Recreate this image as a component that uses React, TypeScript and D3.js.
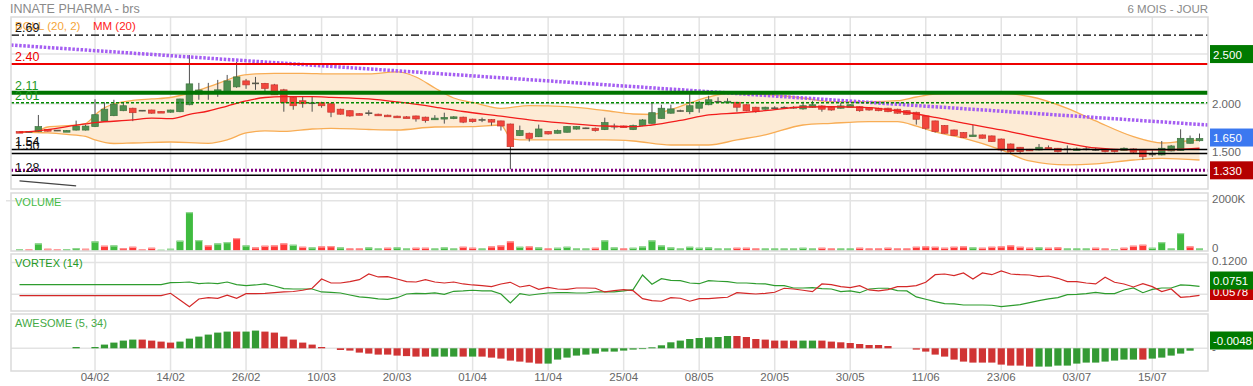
import React from "react";
import * as d3 from "d3";

const W = 1253;
const H = 386;
const FONT = "'Liberation Sans', Arial, sans-serif";

// daily candles, index 0 = 23/01 ... 125 = 22/07
const opens = [1.72,1.715,1.72,1.74,1.73,1.728,1.735,1.735,1.77,1.825, 1.88,1.93,1.955,1.93,1.937,1.922,1.915,1.92,1.99,2.098, 2.12,2.12,2.12,2.17,2.23,2.205,2.205,2.19,2.14,2.065, 2.03,2.005,2.01,2.00,1.945,1.93,1.90,1.905,1.895,1.885, 1.875,1.868,1.877,1.865,1.845,1.855,1.85,1.865,1.845,1.837, 1.84,1.827,1.796,1.68,1.703,1.668,1.72,1.703,1.713,1.745, 1.753,1.753,1.74,1.77,1.776,1.74,1.78,1.803,1.853,1.905, 1.927,1.92,1.955,1.99,2.02,2.02,2.015,1.99,1.965,1.945, 1.955,1.96,1.96,1.948,1.965,1.978,1.965,1.955,1.965,1.97, 1.96,1.955,1.955,1.945,1.93,1.914,1.877,1.827,1.78,1.736, 1.71,1.675,1.686,1.676,1.645,1.595,1.562,1.542,1.535,1.558, 1.552,1.542,1.54,1.542,1.535,1.542,1.542,1.528,1.545,1.528, 1.49,1.485,1.525,1.528,1.602,1.628];
const highs = [1.72,1.72,1.887,1.745,1.735,1.735,1.83,1.79,2.045,2.015, 2.04,2.015,1.96,1.935,1.94,1.925,1.94,2.05,2.49,2.21, 2.21,2.24,2.29,2.42,2.25,2.27,2.21,2.2,2.15,2.07, 2.07,2.07,2.02,2.01,1.95,1.935,1.905,1.935,1.9,1.89, 1.88,1.875,1.88,1.87,1.885,1.91,1.875,1.87,1.85,1.86, 1.845,1.83,1.8,1.78,1.71,1.79,1.725,1.74,1.775,1.775, 1.76,1.76,1.86,1.8,1.78,1.79,1.845,2.015,1.99,1.99, 1.94,2.1,2.03,2.08,2.065,2.055,2.02,1.995,1.97,1.97, 1.975,1.975,1.975,2.02,2.03,1.985,1.97,2.01,1.995,1.975, 1.965,1.96,1.96,1.95,1.935,1.92,1.88,1.83,1.785,1.74, 1.715,1.786,1.69,1.68,1.65,1.6,1.565,1.545,1.595,1.58, 1.555,1.58,1.56,1.565,1.555,1.545,1.545,1.56,1.55,1.53, 1.535,1.625,1.585,1.743,1.68,1.7];
const lows = [1.71,1.71,1.715,1.72,1.725,1.72,1.73,1.73,1.765,1.82, 1.875,1.925,1.825,1.925,1.9,1.915,1.91,1.915,1.985,2.04, 2.04,2.07,2.11,2.16,2.15,2.14,2.12,2.09,1.92,1.94, 1.96,1.92,1.96,1.865,1.89,1.87,1.885,1.88,1.88,1.875, 1.86,1.855,1.82,1.81,1.84,1.8,1.845,1.805,1.81,1.815, 1.78,1.73,1.34,1.675,1.62,1.665,1.69,1.7,1.71,1.74, 1.745,1.72,1.735,1.74,1.76,1.735,1.775,1.8,1.85,1.9, 1.92,1.895,1.91,1.985,2.01,2.01,1.92,1.925,1.91,1.94, 1.945,1.95,1.95,1.94,1.96,1.92,1.93,1.95,1.96,1.92, 1.93,1.925,1.915,1.9,1.89,1.79,1.74,1.71,1.7,1.675, 1.655,1.67,1.65,1.615,1.52,1.505,1.5,1.525,1.53,1.535, 1.51,1.5,1.53,1.53,1.525,1.51,1.51,1.525,1.505,1.435, 1.465,1.48,1.52,1.525,1.6,1.62];
const closes = [1.715,1.716,1.77,1.725,1.73,1.73,1.775,1.775,1.89,1.945, 1.995,1.98,1.91,1.93,1.905,1.918,1.937,2.048,2.2,2.138, 2.12,2.14,2.23,2.27,2.19,2.205,2.155,2.09,2.01,1.98, 2.0,2.005,1.98,1.915,1.895,1.877,1.89,1.905,1.885,1.878, 1.868,1.862,1.847,1.83,1.855,1.862,1.868,1.815,1.82,1.837, 1.815,1.776,1.568,1.73,1.652,1.746,1.696,1.73,1.77,1.77, 1.753,1.73,1.81,1.77,1.763,1.78,1.837,1.91,1.955,1.948, 1.927,1.98,2.015,2.04,2.02,2.025,1.965,1.93,1.92,1.965, 1.955,1.96,1.96,1.98,1.99,1.945,1.937,1.978,1.99,1.93, 1.937,1.93,1.92,1.905,1.894,1.844,1.753,1.72,1.703,1.68, 1.66,1.685,1.653,1.62,1.535,1.518,1.518,1.528,1.562,1.542, 1.518,1.542,1.545,1.542,1.535,1.518,1.518,1.552,1.512,1.467, 1.49,1.552,1.575,1.652,1.652,1.65];

// MM(20) and Bollinger(20,2) read at sample bars
const mmIdx = [0,1,7,8,12,14,16,18,20,22,24,26,28,31,33,37,40,44,47,51,54,58,62,65,67,70,73,76,79,83,86,90,93,97,100,104,107,111,114,118,121,125];
const mmVal = [1.713,1.719,1.797,1.809,1.837,1.855,1.85,1.892,1.927,1.977,2.028,2.063,2.071,2.071,2.065,2.048,2.018,1.967,1.922,1.875,1.837,1.803,1.776,1.769,1.786,1.832,1.887,1.907,1.93,1.967,1.97,1.96,1.927,1.862,1.806,1.736,1.676,1.602,1.555,1.535,1.535,1.552];
const upIdx = [0,1,2,3,5,7,8,9,10,12,14,16,17,18,20,22,23,25,27,30,33,37,40,42,44,46,48,51,54,58,62,65,67,69,71,73,75,78,81,83,86,90,93,95,97,100,104,107,111,114,118,121,123,125];
const upVal = [1.713,1.713,1.731,1.766,1.779,1.801,1.887,1.958,1.998,2.033,2.048,2.063,2.083,2.108,2.169,2.239,2.274,2.3,2.306,2.306,2.3,2.3,2.32,2.269,2.159,2.058,2.013,1.954,1.982,1.971,1.932,1.897,1.892,1.942,2.008,2.068,2.103,2.098,2.078,2.058,2.021,2.021,2.031,2.068,2.098,2.105,2.105,2.073,1.954,1.827,1.669,1.605,1.62,1.636];
const loIdx = [0,1,3,5,7,8,10,12,16,20,22,24,26,28,31,33,37,40,44,48,51,52,53,58,62,65,69,73,76,79,83,86,90,93,95,97,100,104,107,111,114,118,121,125];
const loVal = [1.713,1.713,1.706,1.691,1.671,1.636,1.6,1.605,1.615,1.602,1.636,1.706,1.726,1.721,1.746,1.753,1.741,1.736,1.766,1.769,1.786,1.656,1.636,1.636,1.636,1.625,1.585,1.585,1.636,1.686,1.786,1.803,1.82,1.82,1.776,1.716,1.653,1.535,1.424,1.384,1.394,1.434,1.451,1.434];

// volume in thousands, g = green bar, r = red bar
const volumes = [57,40,284,69,40,53,93,69,365,191, 203,93,150,40,110,28,69,394,1543,418, 203,284,337,500,203,122,191,203,284,231, 150,122,162,175,122,81,81,122,81,110, 122,81,110,110,81,122,81,150,110,81, 162,203,365,150,162,122,81,110,150,81, 81,110,406,122,81,110,162,406,203,122, 81,150,110,122,81,81,110,110,81,81, 81,81,81,110,81,110,81,81,81,110, 81,81,110,81,81,150,162,150,110,150, 162,122,110,150,162,203,150,110,122,110, 122,81,81,81,110,81,57,110,191,231, 110,337,81,702,162,81];
const volDir = "grgrrggrgr" + "grrrrggggg" + "rggrgrrrrg" + "rgrrgrrggr" + "ggr" + "rgggrrg" + "rrrgrgrggg" + "grggrggggg" + "ggggggrrrg" + "gggggrrggr" + "rrrrrrrrrr" + "rgrrrrrrgr" + "rgggr" + "rgrrrggggrg";

// VORTEX (14)
const viPlus = [0.0782,0.0782,0.0782,0.0782,0.0782,0.0782,0.0782,0.0782,0.0782,0.0782, 0.0782,0.0782,0.0782,0.0782,0.0782,0.0782,0.0819,0.0823,0.0832,0.08, 0.0813,0.08,0.0832,0.0782,0.0763,0.0776,0.0795,0.0757,0.0706,0.07, 0.07,0.07,0.0644,0.0638,0.0625,0.0587,0.055,0.0536,0.0512,0.0506, 0.0536,0.0606,0.0619,0.0612,0.0625,0.06,0.0657,0.0663,0.0676,0.0663, 0.0663,0.0606,0.0436,0.0612,0.0582,0.0606,0.0625,0.063,0.063,0.0625, 0.0625,0.0644,0.0644,0.0644,0.0663,0.0687,0.0964,0.0789,0.0895,0.0864, 0.0857,0.0813,0.08,0.0857,0.0846,0.0838,0.0813,0.0813,0.08,0.0795, 0.0763,0.0763,0.0719,0.0719,0.0725,0.0706,0.07,0.065,0.0663,0.063, 0.07,0.0714,0.0714,0.0668,0.0663,0.055,0.0506,0.0461,0.0423,0.0418, 0.0398,0.0398,0.0398,0.0393,0.0367,0.0386,0.0405,0.0442,0.048,0.0512, 0.0536,0.0593,0.06,0.0612,0.0638,0.0612,0.0612,0.0682,0.0719,0.063, 0.0694,0.0719,0.0719,0.0776,0.077,0.0751];
const viMinus = [0.0574,0.0574,0.0574,0.0574,0.0574,0.0574,0.0574,0.0574,0.0574,0.0574, 0.0574,0.0574,0.0574,0.0574,0.0574,0.0574,0.0619,0.0493,0.0367,0.0512, 0.0536,0.0525,0.0582,0.0525,0.0612,0.0612,0.0619,0.063,0.0644,0.0653, 0.0676,0.0714,0.0889,0.0813,0.0813,0.0838,0.0876,0.0983,0.0927,0.0932, 0.0889,0.0838,0.0832,0.0876,0.0832,0.0813,0.0832,0.0795,0.0776,0.0763, 0.0744,0.0795,0.0827,0.0738,0.077,0.0694,0.0732,0.07,0.0694,0.0719, 0.0719,0.0714,0.0644,0.0668,0.0687,0.0668,0.0518,0.048,0.0469,0.0536, 0.0525,0.0469,0.0518,0.0518,0.0531,0.0544,0.063,0.0619,0.0606,0.0619, 0.0638,0.0714,0.07,0.0676,0.065,0.0795,0.0782,0.0744,0.0725,0.0763, 0.0682,0.0663,0.0687,0.0744,0.0744,0.0763,0.0827,0.097,0.0983,0.0951, 0.1002,0.0889,0.1002,0.097,0.104,0.0983,0.097,0.0964,0.0932,0.0945, 0.0902,0.0838,0.0838,0.0813,0.0795,0.0921,0.0827,0.0795,0.0738,0.08, 0.0744,0.065,0.07,0.0544,0.0555,0.0578];

// AWESOME (5, 34), "-" = no bar
const aoVals = [0,0,0,0,0,0,0.0026,0,0.0026,0.0074, 0.0114,0.0154,0.0174,0.0174,0.0154,0.0134,0.0114,0.0134,0.0194,0.0234, 0.0274,0.0314,0.0334,0.0334,0.0334,0.0354,0.0334,0.0314,0.0234,0.0174, 0.0114,0.0074,0.0026,0,-0.0034,-0.0046,-0.0086,-0.0106,-0.0126,-0.0126, -0.0146,-0.0156,-0.0166,-0.0166,-0.0166,-0.0166,-0.0166,-0.0166,-0.0166,-0.0166, -0.0186,-0.0206,-0.0246,-0.0266,-0.0286,-0.0306,-0.0306,-0.0226,-0.0186,-0.0146, -0.0126,-0.0106,-0.0066,-0.0066,-0.0046,-0.0026,-0.0014,0.002,0.006,0.012, 0.0154,0.0186,0.0206,0.022,0.0226,0.0246,0.0246,0.0226,0.0186,0.0174, 0.0154,0.0154,0.0154,0.0154,0.0154,0.0154,0.0134,0.012,0.0106,0.0086, 0.0066,0.0066,0.0046,0,0,-0.0026,-0.0066,-0.0126,-0.0166,-0.0226, -0.0266,-0.0286,-0.0286,-0.0286,-0.0326,-0.0346,-0.0346,-0.0366,-0.0366,-0.0366, -0.0346,-0.0346,-0.0306,-0.0286,-0.0286,-0.0266,-0.0246,-0.0226,-0.0226,-0.0226, -0.0206,-0.0186,-0.0146,-0.0106,-0.0048,0];
const aoDir = "------g-gg" + "gggrrrrggg" + "gggrggrrrr" + "rrr-rrrrrr" + "rrrrgggrgr" + "rrrrrrgggg" + "gggggggggg" + "ggggggrrrr" + "rrrggrrrrr" + "rrr--rrrrr" + "rrrrrrrrgg" + "gggggggggr" + "ggggg-";

const tickIdx = [8,16,24,32,40,48,56,64,72,80,88,96,104,112,120];
const tickLabels = ["04/02","14/02","26/02","10/03","20/03","01/04","11/04","25/04","08/05","20/05","30/05","11/06","23/06","03/07","15/07"];

// drawn levels
const levelPrices = [2.69, 2.40, 2.11, 2.01, 1.54, 1.50, 1.33, 1.28];
const levelLabels = ["2.69", "2.40", "2.11", "2.01", "1.54", "1.50", "", "1.28"];
const trendIdx = [-0.9, 125.9];
const trendPrice = [2.591, 1.786];
const smallIdx = [0, 6];
const smallPrice = [1.223, 1.173];

const x = d3.scaleLinear().domain([-0.9, 125.9]).range([11, 1208]);
const yP = d3.scaleLinear().domain([1.142, 2.873]).range([189, 17]);
const yV = d3.scaleLinear().domain([0, 2000]).range([250.5, 200.7]);
const yX = d3.scaleLinear().domain([0.06, 0.12]).range([294.3, 262.5]);
const yA = d3.scaleLinear().domain([0, 0.01]).range([348.3, 343.3]);

const panels = [
  { top: 17, bottom: 189 },
  { top: 193, bottom: 251 },
  { top: 254, bottom: 311 },
  { top: 314, bottom: 371 },
];

const GRID = "#e3e3e3";
const FRAME = "#dadada";

function RightBox({ y, text, fill }: { y: number; text: string; fill: string }) {
  return (
    <g>
      <rect x={1210} y={y - 9} width={43} height={18} fill={fill} />
      <text x={1213} y={y + 4.5} fontSize={11.5} fill="#fff">{text}</text>
    </g>
  );
}

export default function App() {
  const pts = (idx: number[], val: number[]) => idx.map((d, k) => [x(d), yP(val[k])] as [number, number]);
  const smooth = d3.line().curve(d3.curveMonotoneX);
  const upPts = pts(upIdx, upVal);
  const loPts = pts(loIdx, loVal);
  const bandFill = d3.line()([...upPts, ...loPts.slice().reverse()]) + "Z";

  const vline = (vals: number[]) =>
    d3.line<number>().x((_, i) => x(i)).y((v) => yX(v))(vals) || "";

  return (
    <svg width={W} height={H} style={{ position: "absolute", left: 0, top: 0, background: "#fff" }} fontFamily={FONT}>
      {/* titles */}
      <text x={10} y={13} fontSize={12.5} fill="#8a8a8a">INNATE PHARMA - brs</text>
      <text x={1208} y={13} fontSize={11.5} fill="#8a8a8a" textAnchor="end">6 MOIS - JOUR</text>

      {/* grids */}
      {panels.map((p, k) => (
        <g key={k}>
          {tickIdx.map((t) => (
            <line key={t} x1={x(t)} x2={x(t)} y1={p.top} y2={p.bottom} stroke={GRID} strokeWidth={1.5} />
          ))}
        </g>
      ))}
      {[2.5, 2.0, 1.5].map((v) => (
        <line key={v} x1={11} x2={1208} y1={yP(v)} y2={yP(v)} stroke={GRID} strokeWidth={1.5} />
      ))}
      <line x1={6} x2={1208} y1={yV(2000)} y2={yV(2000)} stroke={GRID} strokeWidth={1.5} />
      {[0.12, 0.06].map((v) => (
        <line key={v} x1={11} x2={1208} y1={yX(v)} y2={yX(v)} stroke={GRID} strokeWidth={1.5} />
      ))}
      <line x1={11} x2={1208} y1={yA(0)} y2={yA(0)} stroke={GRID} strokeWidth={1.5} />

      {/* bollinger */}
      <path d={bandFill} fill="#fdebd5" stroke="none" />
      <path d={smooth(upPts) || ""} fill="none" stroke="#f8ad55" strokeWidth={1.3} />
      <path d={smooth(loPts) || ""} fill="none" stroke="#f8ad55" strokeWidth={1.3} />

      {/* candles */}
      {closes.map((c, i) => {
        const o = opens[i];
        const cx = x(i);
        const up = c >= o;
        const top = yP(Math.max(o, c));
        const bot = yP(Math.min(o, c));
        const h = Math.max(bot - top, 1.6);
        const flat = Math.abs(c - o) < 0.0015;
        return (
          <g key={i}>
            <line x1={cx} x2={cx} y1={yP(highs[i])} y2={yP(lows[i])} stroke="#505050" strokeWidth={1} />
            {flat ? (
              <line x1={cx - 3.5} x2={cx + 3.5} y1={yP(c)} y2={yP(c)} stroke="#5a5a4a" strokeWidth={1.6} />
            ) : (
              <rect x={cx - 3.3} y={top} width={6.6} height={h}
                fill={up ? "#4f8f50" : "#f2463c"} stroke={up ? "#3f7440" : "#c8362e"} strokeWidth={0.7} />
            )}
          </g>
        );
      })}

      {/* moving average */}
      <path d={smooth(pts(mmIdx, mmVal)) || ""} fill="none" stroke="#f21c1c" strokeWidth={1.3} />

      {/* trend lines and levels */}
      <line x1={x(trendIdx[0])} x2={x(trendIdx[1])} y1={yP(trendPrice[0])} y2={yP(trendPrice[1])}
        stroke="#a55ef2" strokeWidth={3.5} strokeDasharray="2.5,1.6" />
      <line x1={x(smallIdx[0])} x2={x(smallIdx[1])} y1={yP(smallPrice[0])} y2={yP(smallPrice[1])}
        stroke="#444" strokeWidth={1.3} />
      <line x1={11} x2={1208} y1={yP(levelPrices[0])} y2={yP(levelPrices[0])} stroke="#000" strokeWidth={1.3} strokeDasharray="8,3,2,3" />
      <line x1={11} x2={1208} y1={yP(levelPrices[1])} y2={yP(levelPrices[1])} stroke="#ee0000" strokeWidth={2} />
      <line x1={11} x2={1208} y1={yP(levelPrices[2])} y2={yP(levelPrices[2])} stroke="#007400" strokeWidth={4} />
      <line x1={11} x2={1208} y1={yP(levelPrices[3])} y2={yP(levelPrices[3])} stroke="#008a00" strokeWidth={1.3} strokeDasharray="3,2" />
      <line x1={11} x2={1208} y1={yP(levelPrices[4])} y2={yP(levelPrices[4])} stroke="#000" strokeWidth={1.5} />
      <line x1={11} x2={1208} y1={yP(levelPrices[5])} y2={yP(levelPrices[5])} stroke="#000" strokeWidth={1.5} />
      <line x1={11} x2={1208} y1={yP(levelPrices[6])} y2={yP(levelPrices[6])} stroke="#800080" strokeWidth={3} strokeDasharray="2,2" />
      <line x1={11} x2={1208} y1={yP(levelPrices[7])} y2={yP(levelPrices[7])} stroke="#000" strokeWidth={1.5} />

      {/* legend */}
      <text x={15} y={30} fontSize={11.5} fill="#f5a53a">BOLL (20, 2)</text>
      <text x={93} y={30} fontSize={11.5} fill="#ff2020">MM (20)</text>
      {levelLabels.map((t, k) =>
        t ? (
          <text key={k} x={15} y={yP(levelPrices[k]) - 3} fontSize={12.5}
            fill={k === 1 ? "#ee0000" : k === 2 || k === 3 ? "#1e9a1e" : "#111"}>{t}</text>
        ) : null
      )}

      {/* volume */}
      {volumes.map((v, i) => {
        const g = volDir[i] === "g";
        const top = yV(v);
        return (
          <g key={i}>
            <rect x={x(i) - 3.5} y={top} width={7} height={yV(0) - top} fill={g ? "#40bb40" : "#ff3838"} />
            <rect x={x(i) - 3.5} y={top} width={7} height={1.2} fill={g ? "#9ad99a" : "#ff9c9c"} />
          </g>
        );
      })}
      <text x={15} y={206} fontSize={11} fill="#44bb44">VOLUME</text>

      {/* vortex */}
      <path d={vline(viPlus)} fill="none" stroke="#2e9c2e" strokeWidth={1.2} />
      <path d={vline(viMinus)} fill="none" stroke="#d42828" strokeWidth={1.2} />
      <text x={15} y={267} fontSize={11} fill="#249a24">VORTEX (14)</text>

      {/* awesome */}
      {aoVals.map((v, i) => {
        const d = aoDir[i];
        if (d === "-") return null;
        const y0 = yA(0);
        const y1 = yA(v);
        return (
          <rect key={i} x={x(i) - 3.6} y={Math.min(y0, y1)} width={7.2} height={Math.max(Math.abs(y1 - y0), 0.8)}
            fill={d === "g" ? "#349a34" : "#d03434"} />
        );
      })}
      <text x={15} y={327} fontSize={11} fill="#44aa44">AWESOME (5, 34)</text>

      {/* frames */}
      {panels.map((p, k) => (
        <rect key={k} x={11} y={p.top} width={1197} height={p.bottom - p.top} fill="none" stroke={FRAME} strokeWidth={1.5} />
      ))}

      {/* x labels */}
      {tickIdx.map((t, k) => (
        <text key={t} x={x(t)} y={381} fontSize={11.5} fill="#666" textAnchor="middle">{tickLabels[k]}</text>
      ))}

      {/* right axis */}
      <text x={1212} y={yP(2.0) + 4} fontSize={11.5} fill="#666">2.000</text>
      <text x={1212} y={yP(1.5) + 3} fontSize={11.5} fill="#666">1.500</text>
      <RightBox y={yP(2.5)} text="2.500" fill="#007a00" />
      <RightBox y={yP(closes[125]) - 1} text="1.650" fill="#3b78f0" />
      <RightBox y={yP(1.33)} text="1.330" fill="#b50000" />
      <text x={1212} y={203} fontSize={11.5} fill="#666">2000K</text>
      <text x={1212} y={252} fontSize={11.5} fill="#666">0</text>
      <text x={1212} y={265} fontSize={11.5} fill="#666">0.1200</text>
      <RightBox y={291} text="0.0578" fill="#c00000" />
      <RightBox y={280.5} text="0.0751" fill="#007a00" />
      <text x={1212} y={353} fontSize={11.5} fill="#666">-</text>
      <RightBox y={340.5} text="-0.0048" fill="#007a00" />
    </svg>
  );
}
